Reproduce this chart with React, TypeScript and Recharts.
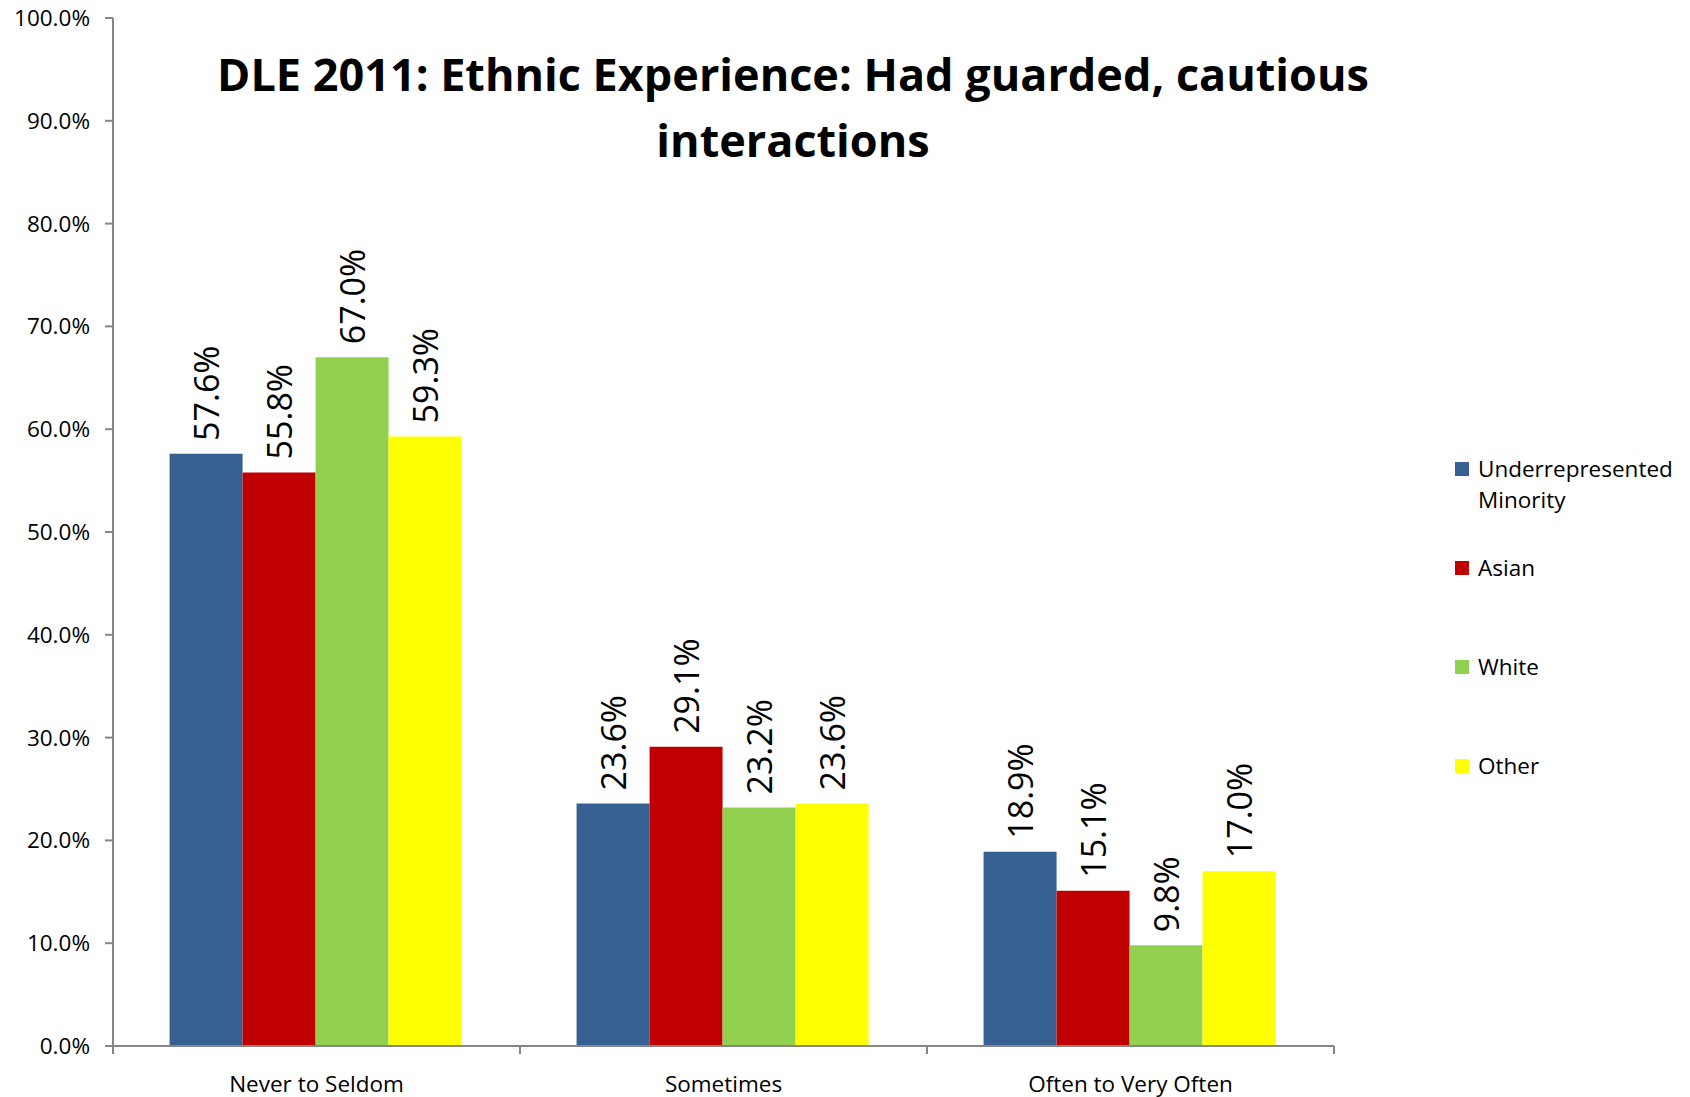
import React from 'react';
import { BarChart, Bar, XAxis, YAxis, LabelList } from 'recharts';

const categories = ['Never to Seldom', 'Sometimes', 'Often to Very Often'];
const seriesNames = ['Underrepresented Minority', 'Asian', 'White', 'Other'];
const underrepresented = [57.6, 23.6, 18.9];
const asian = [55.8, 29.1, 15.1];
const white = [67.0, 23.2, 9.8];
const other = [59.3, 23.6, 17.0];
const yTicks = [0, 10, 20, 30, 40, 50, 60, 70, 80, 90, 100];
const colors = ['#376092', '#C00000', '#92D050', '#FFFF00'];

const seriesValues = [underrepresented, asian, white, other];
const data = categories.map((c, i) => {
    const row: Record<string, string | number> = { category: c };
    seriesNames.forEach((s, j) => { row[s] = seriesValues[j][i]; });
    return row;
});

const W = 1690;
const H = 1097;
const margin = { top: 18, right: 356, bottom: 0, left: 0 };
const yAxisWidth = 113;
const xAxisHeight = 51;
const band = (W - margin.right - yAxisWidth) / categories.length;
const font = '"Open Sans", sans-serif';
const axisColor = '#868686';

function CategoryTick(props: any) {
    const { x, y, payload } = props;
    return (
        <g>
            <line x1={x - band / 2} x2={x - band / 2} y1={y} y2={y + 8} stroke={axisColor} strokeWidth={2} />
            <line x1={x + band / 2} x2={x + band / 2} y1={y} y2={y + 8} stroke={axisColor} strokeWidth={2} />
            <text x={x} y={y + 37} textAnchor="middle" dominantBaseline="central" fontFamily={font} fontSize={22.5} fill="#000">
                {payload.value}
            </text>
        </g>
    );
}

function ValueLabel(props: any) {
    const { x, y, width, value } = props;
    const cx = x + width / 2;
    const ty = y - 13;
    return (
        <text x={cx} y={ty} transform={`rotate(-90, ${cx}, ${ty})`} textAnchor="start" dominantBaseline="central" fontFamily={font} fontSize={34} fill="#000">
            {`${Number(value).toFixed(1)}%`}
        </text>
    );
}

export default function App() {
    return (
        <div style={{ position: 'absolute', left: 0, top: 0, width: W, height: H, background: '#fff' }}>
            <BarChart width={W} height={H} data={data} margin={margin} barCategoryGap="13.9%" barGap={0}>
                <XAxis dataKey="category" height={xAxisHeight} tickSize={0} tickMargin={0} tickLine={false} axisLine={{ stroke: axisColor, strokeWidth: 2 }} tick={<CategoryTick />} interval={0} />
                <YAxis
                    width={yAxisWidth}
                    domain={[0, 100]}
                    ticks={yTicks}
                    tickFormatter={(v: number) => `${v.toFixed(1)}%`}
                    tickSize={8}
                    tickMargin={15}
                    axisLine={{ stroke: axisColor, strokeWidth: 2 }}
                    tickLine={{ stroke: axisColor, strokeWidth: 2 }}
                    tick={{ fontFamily: font, fontSize: 22.5, fill: '#000' }}
                />
                {seriesNames.map((s, j) => (
                    <Bar key={s} dataKey={s} fill={colors[j]} isAnimationActive={false}>
                        <LabelList dataKey={s} content={<ValueLabel />} />
                    </Bar>
                ))}
            </BarChart>
            <div style={{ position: 'absolute', left: 193, top: 41, width: 1200, textAlign: 'center', fontFamily: font, fontWeight: 700, fontSize: 45, lineHeight: '66px', color: '#000' }}>
                <div style={{ whiteSpace: 'nowrap' }}>DLE 2011: Ethnic Experience: Had guarded, cautious</div>
                <div>interactions</div>
            </div>
            <div style={{ position: 'absolute', left: 1455, top: 453, fontFamily: font, fontSize: 22.5, color: '#000' }}>
                {seriesNames.map((s, j) => (
                    <div key={s} style={{ display: 'flex', alignItems: 'flex-start', height: 99 }}>
                        <div style={{ width: 14, height: 14, background: colors[j], marginTop: 9, marginRight: 9, flexShrink: 0 }} />
                        <div style={{ lineHeight: '31px', width: 215 }}>{s}</div>
                    </div>
                ))}
            </div>
        </div>
    );
}
